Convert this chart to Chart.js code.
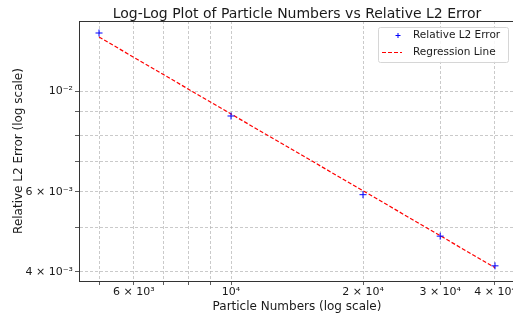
<!DOCTYPE html>
<html>
<head>
<meta charset="utf-8">
<script src="https://cdn.jsdelivr.net/npm/chart.js@4"></script>
<style>
  html, body { margin: 0; padding: 0; overflow: hidden; background: #fff; }
  canvas { display: block; }
</style>
</head>
<body>
<canvas id="myChart" width="520" height="320"></canvas>
<script>
// values
const particles = [5000, 10000, 20000, 30000, 40000];
const l2Error = [0.01342, 0.00881, 0.00591, 0.00479, 0.00412];
const regression = [0.01315, 0.0089, 0.00603, 0.0048, 0.00408];

const xTicks = [5000, 6000, 7000, 8000, 9000, 10000, 20000, 30000, 40000];
const xTickLabels = ['', '6 × 10³', '', '', '', '10⁴', '2 × 10⁴', '3 × 10⁴', '4 × 10⁴'];
const yTicks = [0.004, 0.005, 0.006, 0.007, 0.008, 0.009, 0.01];
const yTickLabels = ['4 × 10⁻³', '', '6 × 10⁻³', '', '', '', '10⁻²'];

const chartTitle = 'Log-Log Plot of Particle Numbers vs Relative L2 Error';

const FONT = 'DejaVu Sans';
const TEXT = '#1a1a1a';

const points = (ys) => particles.map((x, i) => ({ x: x, y: ys[i] }));

// matplotlib style title over the axes, legend inside the axes, top spine
const plotDecor = {
    id: 'plot_decor',
    afterDraw: (chart) => {
        const ctx = chart.ctx;
        const area = chart.chartArea;
        const sets = chart.data.datasets;
        ctx.save();
        // title centred on the axes
        ctx.fillStyle = TEXT;
        ctx.font = '14px "' + FONT + '"';
        ctx.textAlign = 'center';
        ctx.textBaseline = 'alphabetic';
        ctx.fillText(chartTitle, (area.left + area.right) / 2, 17.5);

        // top spine
        ctx.strokeStyle = '#333';
        ctx.lineWidth = 1;
        ctx.beginPath();
        ctx.moveTo(area.left, Math.round(area.top) + 0.5);
        ctx.lineTo(area.right, Math.round(area.top) + 0.5);
        ctx.stroke();

        const w = 130, h = 35;
        const x0 = area.right - 7 - w, y0 = area.top + 6;
        ctx.fillStyle = 'rgba(255,255,255,0.85)';
        ctx.strokeStyle = '#d6d6d6';
        ctx.beginPath();
        ctx.roundRect(x0 + 0.5, y0 + 0.5, w, h, 2);
        ctx.fill();
        ctx.stroke();

        // row 1: marker
        const r1 = y0 + 8.5, r2 = y0 + 25.5;
        ctx.strokeStyle = sets[0].borderColor;
        ctx.lineWidth = 1;
        ctx.beginPath();
        ctx.moveTo(x0 + 20 - 2.5, r1); ctx.lineTo(x0 + 20 + 2.5, r1);
        ctx.moveTo(x0 + 20, r1 - 2.5); ctx.lineTo(x0 + 20, r1 + 2.5);
        ctx.stroke();
        // row 2: dashed line
        ctx.strokeStyle = sets[1].borderColor;
        ctx.lineWidth = 1.2;
        ctx.setLineDash(sets[1].borderDash);
        ctx.beginPath();
        ctx.moveTo(x0 + 4, r2); ctx.lineTo(x0 + 24, r2);
        ctx.stroke();
        ctx.setLineDash([]);

        ctx.fillStyle = TEXT;
        ctx.textAlign = 'left';
        ctx.font = '10.5px "' + FONT + '"';
        ctx.textBaseline = 'middle';
        ctx.fillText(sets[0].label, x0 + 35, r1);
        ctx.fillText(sets[1].label, x0 + 35, r2);
        ctx.restore();
    }
};

const gridStyle = {
    color: 'rgba(176,176,176,0.85)',
    lineWidth: 0.8,
    tickLength: 4,
    tickColor: '#333',
    tickWidth: 0.8
};

const ctx = document.getElementById('myChart').getContext('2d');
const myChart = new Chart(ctx, {
    type: 'scatter',
    data: {
        datasets: [{
            label: 'Relative L2 Error',
            data: points(l2Error),
            showLine: false,
            pointStyle: 'cross',
            pointRadius: 3.5,
            borderColor: 'rgb(0,0,255)',
            backgroundColor: 'rgb(0,0,255)',
            borderWidth: 1
        }, {
            label: 'Regression Line',
            data: points(regression),
            showLine: true,
            pointRadius: 0,
            borderColor: 'rgb(255,0,0)',
            borderDash: [4, 2],
            borderWidth: 1.2,
            fill: false
        }]
    },
    plugins: [plotDecor],
    options: {
        responsive: false,
        animation: false,
        layout: { padding: { left: 0, right: 5, top: 21, bottom: 0 } },
        plugins: {
            legend: { display: false },
            tooltip: { enabled: false },
            title: { display: false }
        },
        scales: {
            x: {
                type: 'logarithmic',
                min: 4501,
                max: 44430,
                afterBuildTicks: (scale) => { scale.ticks = xTicks.map(v => ({ value: v })); },
                afterFit: (scale) => { scale.height = 39; },
                grid: gridStyle,
                border: { color: '#333', width: 1, dash: [3, 2] },
                ticks: {
                    autoSkip: false,
                    maxRotation: 0,
                    padding: 1,
                    color: TEXT,
                    font: { family: FONT, size: 11 },
                    callback: (value, index) => xTickLabels[index]
                },
                title: {
                    display: true,
                    text: 'Particle Numbers (log scale)',
                    color: TEXT,
                    font: { family: FONT, size: 12 },
                    padding: { top: 0, bottom: 6 }
                }
            },
            y: {
                type: 'logarithmic',
                min: 0.003815,
                max: 0.014263,
                afterBuildTicks: (scale) => { scale.ticks = yTicks.map(v => ({ value: v })); },
                afterFit: (scale) => { scale.width = 79; },
                grid: gridStyle,
                border: { color: '#333', width: 1, dash: [3, 2] },
                ticks: {
                    autoSkip: false,
                    padding: 2,
                    color: TEXT,
                    font: { family: FONT, size: 11 },
                    callback: (value, index) => yTickLabels[index]
                },
                title: {
                    display: true,
                    text: 'Relative L2 Error (log scale)',
                    color: TEXT,
                    font: { family: FONT, size: 12 },
                    padding: { top: 12, bottom: 0 }
                }
            }
        }
    }
});
</script>
</body>
</html>
